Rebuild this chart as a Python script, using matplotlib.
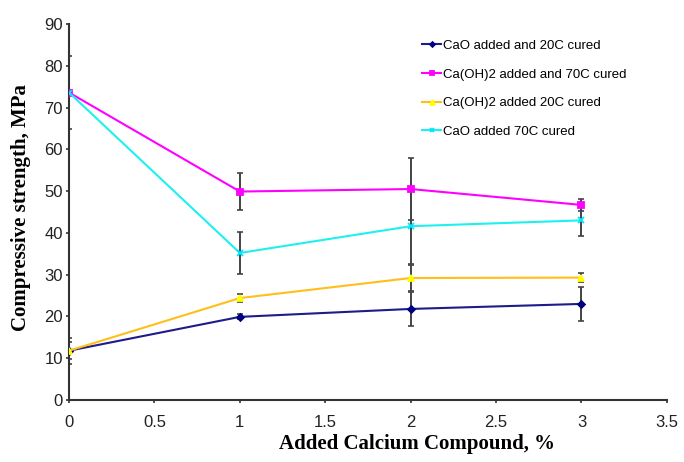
import numpy as np
import matplotlib
matplotlib.use('Agg')
import matplotlib.pyplot as plt

x = [0, 1, 2, 3]

cao_20 = [11.8, 19.9, 21.8, 23.0]
cao_20_err = [3.1, 0.6, 4.1, 4.1]

caoh_70 = [73.6, 49.9, 50.5, 46.7]
caoh_70_err = [8.8, 4.5, 7.5, 1.4]

caoh_20 = [11.8, 24.4, 29.2, 29.3]
caoh_20_err = [2.0, 1.0, 3.1, 1.1]

cao_70 = [73.6, 35.2, 41.6, 43.0]
cao_70_err = [0.5, 5.1, 9.0, 3.7]

labels = ['CaO added and 20C cured', 'Ca(OH)2 added and 70C cured',
          'Ca(OH)2 added 20C cured', 'CaO added 70C cured']

plt.rcParams['font.family'] = ['Liberation Sans', 'DejaVu Sans']

fig = plt.figure(figsize=(6.84, 4.62), dpi=100)
ax = fig.add_axes([0.1009, 0.1342, 0.8741, 0.8138])

series = [
    (cao_20, cao_20_err, '#1c1c8a', 'D', '#000080', 3.5),
    (caoh_70, caoh_70_err, '#ff00ff', 's', '#ff00ff', 4.5),
    (caoh_20, caoh_20_err, '#ffbf1a', '^', '#ffff00', 5),
    (cao_70, cao_70_err, '#1ef0f0', 'x', '#00e5ff', 5),
]

for (y, err, col, mk, mcol, ms), lab in zip(series, labels):
    ax.errorbar(x, y, yerr=err, fmt='none', ecolor='#444444', elinewidth=1.4,
                capsize=2.5, capthick=1.2, zorder=2)
    ax.plot(x, y, color=col, marker=mk, markersize=ms, markerfacecolor=mcol,
            markeredgecolor=mcol, markeredgewidth=1.3, linewidth=1.5,
            label=lab, zorder=3)

ax.set_xlim(0, 3.5)
ax.set_ylim(0, 90)
ax.set_xticks(np.arange(0, 3.51, 0.5))
ax.set_xticklabels(['0', '0.5', '1', '1.5', '2', '2.5', '3', '3.5'])
ax.set_yticks(range(0, 91, 10))
ax.tick_params(labelsize=12, length=2.5, width=1.2, colors='#333333',
               labelcolor='#222222')
ax.tick_params(axis='x', pad=8)
ax.tick_params(axis='y', pad=2)
for s in ['top', 'right']:
    ax.spines[s].set_visible(False)
for s in ['left', 'bottom']:
    ax.spines[s].set_linewidth(1.5)
    ax.spines[s].set_color('#333333')

ax.set_xlabel('Added Calcium Compound, %', family='Liberation Serif',
              fontweight='bold', fontsize=15)
ax.xaxis.set_label_coords(0.582, -0.09)
ax.set_ylabel('Compressive strength, MPa', family='Liberation Serif',
              fontweight='bold', fontsize=15)
ax.yaxis.set_label_coords(-0.064, 0.513)

ax.legend(loc='upper left', bbox_to_anchor=(0.57, 0.99), frameon=False,
          fontsize=9.5, handlelength=1.5, handletextpad=0.1,
          labelspacing=1.25, markerscale=0.7)

fig.savefig('out.png', dpi=100)
